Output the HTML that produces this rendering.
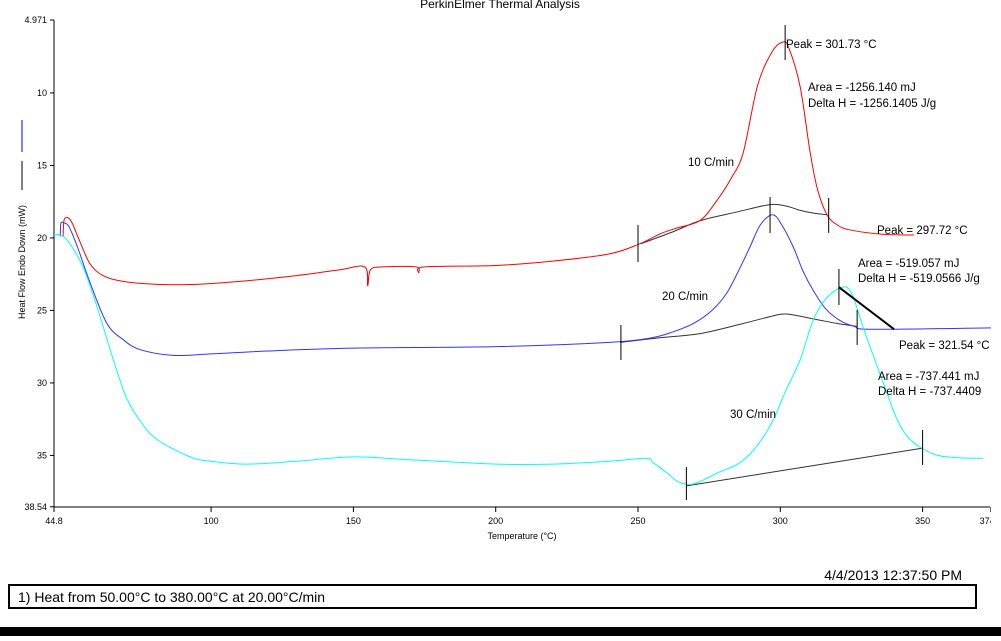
<!DOCTYPE html>
<html><head><meta charset="utf-8"><style>
body{margin:0;background:#fff;width:1001px;height:636px;overflow:hidden;font-family:"Liberation Sans",sans-serif}
svg text{font-family:"Liberation Sans",sans-serif}
</style></head><body>
<svg id="chart" width="1001" height="636" xmlns="http://www.w3.org/2000/svg">
<text x="500" y="8" text-anchor="middle" font-size="12">PerkinElmer Thermal Analysis</text>
<g id="axes"></g><g id="marks"></g>
<text x="522" y="539" text-anchor="middle" font-size="9">Temperature (°C)</text>
<text transform="translate(25,262) rotate(-90)" text-anchor="middle" font-size="9">Heat Flow Endo Down (mW)</text>
<line x1="22" y1="120" x2="22" y2="152" stroke="#00f"/>
<line x1="22" y1="161" x2="22" y2="190" stroke="#000"/>
<text x="962" y="580" text-anchor="end" font-size="14">4/4/2013 12:37:50 PM</text>
<rect x="9" y="585" width="967" height="23" fill="none" stroke="#000" stroke-width="2"/>
<text x="18" y="602" font-size="14">1)  Heat from 50.00°C to 380.00°C at 20.00°C/min</text>
<rect x="0" y="627" width="1001" height="9" fill="#000"/>
</svg>
<script>
const xTicks=[100,150,200,250,300,350];
const yTicks=[10,15,20,25,30,35];
const red=[[48,19.9],[48.3,18.8],[49.4,18.6],[51,18.9],[54,20.3],[57.5,21.8],[62,22.6],[69,23.0],[81,23.2],[95,23.2],[110,23.0],[130,22.6],[145,22.2],[154,22.0],[155,23.3],[156,22.2],[160,22.0],[172,22.0],[173,22.4],[175,22.0],[200,21.9],[220,21.6],[240,21.1],[250.7,20.4],[258,19.7],[264,19.3],[271.8,18.8],[277.8,17.4],[283,15.8],[287,14.1],[292,9.5],[297,7.2],[300.8,6.5],[303,6.9],[307,9.6],[310.4,14.0],[313,16.6],[316.4,18.4],[320,19.1],[324.5,19.45],[336,19.75],[347,19.8]];
const blue=[[47,19.9],[47.2,19.0],[48,18.95],[50,19.2],[53,20.6],[57.5,23.1],[63.4,25.9],[69,27.0],[75,27.7],[86.6,28.1],[100,28.0],[120,27.8],[150,27.6],[200,27.5],[240,27.2],[254.4,26.9],[262,26.5],[269.5,25.9],[276,25.0],[281.2,23.8],[286,22.0],[289.4,20.6],[293,19.1],[297.3,18.4],[300.5,19.1],[304.5,20.6],[308,22.3],[311.5,23.6],[316,24.9],[321,25.7],[326,26.1],[332.6,26.3],[374,26.2]];
const cyan=[[44.8,19.8],[47,19.8],[50,20.3],[55,22.0],[60,24.8],[65,28],[70,30.9],[75,32.6],[81,33.9],[92.6,35.1],[100,35.4],[112.6,35.6],[130,35.4],[150,35.1],[170,35.3],[200,35.6],[220,35.6],[240,35.4],[253,35.2],[255.3,35.5],[260.2,36.2],[264,36.8],[268.3,37.0],[271.8,36.8],[278,36.2],[285.8,35.5],[292,34.3],[297.4,32.6],[302,30.5],[307,28.4],[311.5,25.7],[316,24.2],[321.6,23.4],[325,23.8],[329,26.1],[333,28.3],[337.5,30.7],[341,32.5],[345.6,33.9],[353.7,34.9],[362,35.15],[371.3,35.2]];
const redBase=[[251,20.4],[262,19.6],[272,18.8],[285,18.2],[296.4,17.7],[302,17.8],[307,18.1],[312,18.3],[316.4,18.4]];
const blueBase=[[243.7,27.2],[257,26.9],[271.8,26.6],[287,25.9],[297,25.4],[302.2,25.25],[312,25.6],[320,25.9],[326.9,26.1]];
const cyanBase=[[267,37.1],[350,34.5]];
const peakLine=[[320.6,23.4],[340,26.3]];
const X=t=>54+(t-44.8)*2.846, Y=v=>20+(v-4.971)*14.5;
const NS="http://www.w3.org/2000/svg";
const ax=document.getElementById('axes'), mk=document.getElementById('marks');
function el(p,tag,a){const e=document.createElementNS(NS,tag);for(const k in a)e.setAttribute(k,a[k]);p.appendChild(e);return e;}
let e=el(ax,'line',{x1:54,y1:20,x2:54,y2:507,stroke:'#000'});


e=el(ax,'line',{x1:54,y1:507,x2:990,y2:507,stroke:'#000'});


const yl=[[4.971,'4.971'],...yTicks.map(v=>[v,String(v)]),[38.54,'38.54']];
yl.forEach(([v,s])=>{el(ax,'line',{x1:50,y1:Y(v),x2:54,y2:Y(v),stroke:'#000'});
 const t=el(ax,'text',{x:47,y:Y(v)+3,'text-anchor':'end','font-size':9});t.textContent=s;
 
 });
const xl=[[44.8,'44.8'],...xTicks.map(v=>[v,String(v)]),[374,'374.0']];
xl.forEach(([v,s])=>{el(ax,'line',{x1:X(v),y1:507,x2:X(v),y2:512,stroke:'#000'});
 const t=el(ax,'text',{x:X(v),y:524,'text-anchor':'middle','font-size':9});t.textContent=s;
 
 });
function line(d,c,n,w){
 const P=d.map(q=>[X(q[0]),Y(q[1])]);
 let s='M'+P[0][0]+','+P[0][1];
 for(let i=0;i<P.length-1;i++){const p0=P[Math.max(i-1,0)],p1=P[i],p2=P[i+1],p3=P[Math.min(i+2,P.length-1)];
  s+=' C'+(p1[0]+(p2[0]-p0[0])/6)+','+(p1[1]+(p2[1]-p0[1])/6)+' '+(p2[0]-(p3[0]-p1[0])/6)+','+(p2[1]-(p3[1]-p1[1])/6)+' '+p2[0]+','+p2[1];}
 const p=el(mk,'path',{d:s,fill:'none',stroke:c,'stroke-width':w||1});
 
 }
line(redBase,'#333','baseline-10');line(blueBase,'#333','baseline-20');line(cyanBase,'#333','baseline-30');
line(red,'#f00','series-10c-min');line(blue,'#33f','series-20c-min');line(cyan,'#0ff','series-30c-min');
line(peakLine,'#000','peak-line-30',2);
[[250,225,262],[296.4,197,233],[317,198,233],[244,325,360],[327,310,345],[320.6,269,305],[267,467,500],[350,430,465],[301.7,25,60]].forEach(([t,a,b])=>{
 const l=el(mk,'line',{x1:X(t),y1:a,x2:X(t),y2:b,stroke:'#000'});
 
 });
[[786,48,'Peak = 301.73 °C'],[808,91,'Area = -1256.140 mJ'],[808,107,'Delta H = -1256.1405 J/g'],[688,166,'10 C/min'],[877,234,'Peak = 297.72 °C'],[858,267,'Area = -519.057 mJ'],[858,282,'Delta H = -519.0566 J/g'],[662,300,'20 C/min'],[899,349,'Peak = 321.54 °C'],[878,380,'Area = -737.441 mJ'],[878,395,'Delta H = -737.4409'],[730,418,'30 C/min']].forEach(([x,y,s])=>{
 const t=el(mk,'text',{x:x,y:y,'font-size':11.5});t.textContent=s;
 
 });
el(mk,'rect',{x:991,y:0,width:10,height:627,fill:'#fff'});
</script>
</body></html>
